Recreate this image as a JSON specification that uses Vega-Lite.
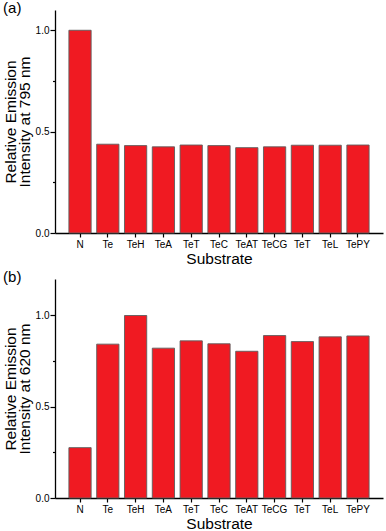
{
  "$schema": "https://vega.github.io/schema/vega-lite/v6.json",
  "padding": {"left": 3, "top": 1, "right": 2, "bottom": 0},
  "spacing": 3,
  "config": {
    "font": "Liberation Sans",
    "view": {"stroke": null},
    "axis": {
      "domainColor": "#000",
      "domainWidth": 1.3,
      "tickColor": "#000",
      "tickWidth": 1.2,
      "labelColor": "#000",
      "titleColor": "#000",
      "labelFont": "Liberation Sans",
      "titleFont": "Liberation Sans",
      "labelFontSize": 10,
      "titleFontSize": 15.5,
      "titleFontWeight": "normal",
      "grid": false
    },
    "title": {"font": "Liberation Sans", "fontSize": 15, "fontWeight": "normal", "color": "#000", "anchor": "start", "frame": "bounds", "offset": -6}
  },
  "data": {
    "values": [
      {"i": 0, "substrate": "N", "em795": 1.0, "em620": 0.276},
      {"i": 1, "substrate": "Te", "em795": 0.438, "em620": 0.843},
      {"i": 2, "substrate": "TeH", "em795": 0.431, "em620": 1.0},
      {"i": 3, "substrate": "TeA", "em795": 0.425, "em620": 0.821},
      {"i": 4, "substrate": "TeT", "em795": 0.434, "em620": 0.861},
      {"i": 5, "substrate": "TeC", "em795": 0.431, "em620": 0.845},
      {"i": 6, "substrate": "TeAT", "em795": 0.421, "em620": 0.804},
      {"i": 7, "substrate": "TeCG", "em795": 0.425, "em620": 0.89},
      {"i": 8, "substrate": "TeT", "em795": 0.433, "em620": 0.857},
      {"i": 9, "substrate": "TeL", "em795": 0.433, "em620": 0.883},
      {"i": 10, "substrate": "TePY", "em795": 0.434, "em620": 0.888}
    ]
  },
  "vconcat": [
    {
      "title": "(a)",
      "width": 328,
      "height": 223,
      "mark": {"type": "bar", "fill": "#f01a22", "stroke": "#5e5e5e", "strokeWidth": 0.9},
      "encoding": {
        "x": {
          "field": "i", "type": "ordinal",
          "scale": {"paddingInner": 0.2, "paddingOuter": 0.5},
          "axis": {
            "title": "Substrate", "labelAngle": 0, "tickSize": 4, "labelPadding": 2, "titlePadding": 2,
            "labelExpr": "['N','Te','TeH','TeA','TeT','TeC','TeAT','TeCG','TeT','TeL','TePY'][datum.value]"
          }
        },
        "y": {
          "field": "em795", "type": "quantitative",
          "scale": {"domain": [0, 1.1], "nice": false},
          "axis": {
            "title": ["Relative Emission", "Intensity at 795 nm"],
            "titleLineHeight": 14,
            "values": [0, 0.25, 0.5, 0.75, 1.0],
            "labelExpr": "datum.value == 0.25 || datum.value == 0.75 ? '' : format(datum.value, '.1f')",
            "tickSize": {"condition": {"test": "datum.value == 0.25 || datum.value == 0.75", "value": 2.5}, "value": 5},
            "labelPadding": 1,
            "titlePadding": 3
          }
        }
      }
    },
    {
      "title": "(b)",
      "width": 328,
      "height": 219,
      "mark": {"type": "bar", "fill": "#f01a22", "stroke": "#5e5e5e", "strokeWidth": 0.9},
      "encoding": {
        "x": {
          "field": "i", "type": "ordinal",
          "scale": {"paddingInner": 0.2, "paddingOuter": 0.5},
          "axis": {
            "title": "Substrate", "labelAngle": 0, "tickSize": 4, "labelPadding": 2, "titlePadding": 2,
            "labelExpr": "['N','Te','TeH','TeA','TeT','TeC','TeAT','TeCG','TeT','TeL','TePY'][datum.value]"
          }
        },
        "y": {
          "field": "em620", "type": "quantitative",
          "scale": {"domain": [0, 1.2], "nice": false},
          "axis": {
            "title": ["Relative Emission", "Intensity at 620 nm"],
            "titleLineHeight": 14,
            "values": [0, 0.25, 0.5, 0.75, 1.0],
            "labelExpr": "datum.value == 0.25 || datum.value == 0.75 ? '' : format(datum.value, '.1f')",
            "tickSize": {"condition": {"test": "datum.value == 0.25 || datum.value == 0.75", "value": 2.5}, "value": 5},
            "labelPadding": 1,
            "titlePadding": 3
          }
        }
      }
    }
  ]
}
